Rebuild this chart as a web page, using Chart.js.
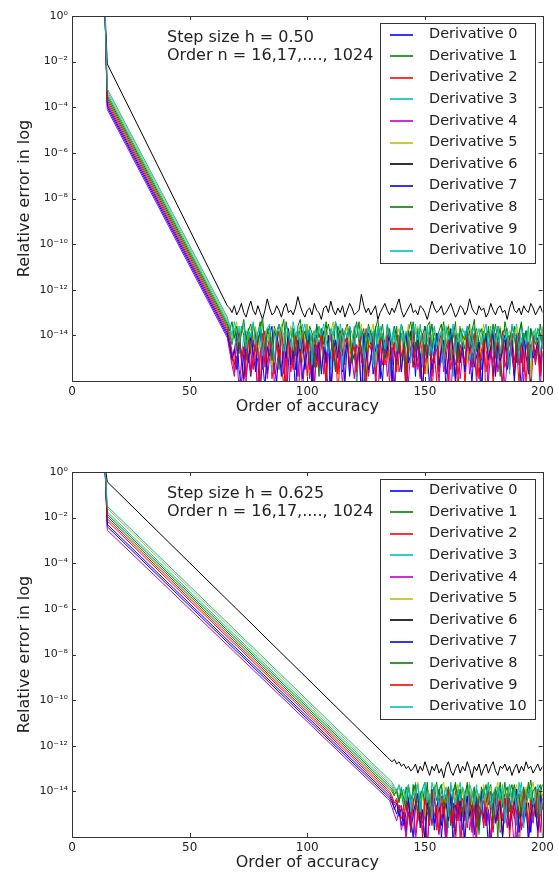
<!DOCTYPE html>
<html><head><meta charset="utf-8">
<script src="https://cdn.jsdelivr.net/npm/chart.js@4.4.0/dist/chart.umd.min.js"></script>
<style>
html,body{margin:0;padding:0;background:#fff;}
.box{position:absolute;left:0;width:558px;height:437px;}
</style></head><body>
<div style="position:relative;width:558px;height:874px;">
<div class="box" style="top:0"><canvas id="c1" width="558" height="437"></canvas></div>
<div class="box" style="top:437px"><canvas id="c2" width="558" height="437"></canvas></div>
</div>
<script>
// ---------- data ----------
const seriesNames = ['Derivative 0','Derivative 1','Derivative 2','Derivative 3','Derivative 4','Derivative 5','Derivative 6','Derivative 7','Derivative 8','Derivative 9','Derivative 10'];
const xTicks = [0, 50, 100, 150, 200];
const yTickExps = [0, -2, -4, -6, -8, -10, -12, -14, -16];
const annotationA = ['Step size h = 0.50', 'Order n = 16,17,...., 1024'];
const annotationB = ['Step size h = 0.625', 'Order n = 16,17,...., 1024'];

// first order (curve enters from above the plot) and its log10 error
const firstOrder = 14;
const firstExp = 0.3;
// second order and log10 error of each derivative there
const secondOrder = 15;
const startA = [-4.0, -3.6, -3.8, -3.4, -4.1, -3.3, -2.1, -3.9, -3.5, -3.7, -3.2];
const startB = [-2.4, -1.95, -2.15, -1.75, -2.55, -1.6, -0.43, -2.3, -1.85, -2.05, -1.5];
// end of the straight (convergent) part
const kneeOrderA = 66;
const kneeA = [-14.0, -13.6, -13.8, -13.4, -14.1, -13.3, -12.7, -13.9, -13.5, -13.7, -13.2];
const kneeOrderB = 134;
const kneeB = [-14.2, -13.8, -14.0, -13.6, -14.3, -13.5, -12.5, -14.1, -13.7, -13.9, -13.4];

// round-off plateau: -log10(error) in tenths, one value per order from knee+1 on
const noiseA0 = [145,151,147,139,155,162,148,141,150,158,143,137,152,165,149,144,157,140,136,153,160,146,139,148,171,152,142,138,155,147,141,159,150,137,145,163,149,140,154,144,138,151,168,147,142,156,139,150,145,161,143,136,152,148,158,141,146,166,150,139,144,157,149,137,153,160,142,147,139,155,162,145,140,151,143,169,148,138,154,146,141,158,150,136,147,163,144,152,139,156,148,142,165,150,137,145,159,141,149,143,155,138,147,161,144,140,153,167,146,139,151,145,158,142,136,149,162,147,140,154,143,157,139,148,164,145,138,152,160,144,149,141,156,137,146,163,150,142,155,147];
const noiseA1 = [139,144,137,142,148,136,140,151,138,135,143,147,139,134,145,152,137,141,149,136,140,155,138,133,146,142,137,150,139,144,136,148,141,135,153,140,138,145,158,137,142,134,147,139,143,156,136,140,149,138,135,145,151,137,141,134,148,139,160,143,138,144,136,150,140,135,146,142,137,153,141,136,148,139,145,157,138,134,143,147,137,152,140,136,149,142,135,146,139,155,140,134,145,138,151,137,143,148,136,141,146,139,135,154,140,137,149,142,138,145,136,150,141,135,144,158,139,137,147,140,143,136,152,139,134,146,141,148,137,144,139,147,135,142,150,138,136,145,141,153];
const noiseA2 = [142,149,156,144,138,152,161,145,140,157,150,143,167,148,139,154,146,141,159,151,144,138,153,162,147,140,156,149,143,170,152,141,146,158,139,150,164,145,142,155,147,160,143,138,151,145,166,149,141,153,139,157,148,144,162,140,152,146,137,158,150,143,155,168,145,139,153,147,161,142,148,138,156,151,143,163,146,140,154,149,144,159,141,152,147,138,165,150,143,156,141,153,146,160,139,149,144,157,151,140,162,145,138,154,148,143,159,147,141,169,152,146,140,157,144,150,163,142,148,155,139,151,146,161,143,156,140,149,166,145,153,142,158,147,141,160,149,144,155,150];
const noiseA3 = [137,143,140,146,136,149,141,138,152,139,144,137,150,141,135,147,143,139,156,138,142,148,136,140,153,139,145,137,142,158,139,135,147,144,138,151,140,136,146,142,150,138,141,155,137,143,148,135,140,152,143,139,146,136,160,141,138,149,144,137,141,153,139,145,136,142,150,138,157,140,136,146,142,139,151,144,137,148,141,135,145,140,154,138,143,136,149,141,147,139,152,137,142,146,139,158,140,144,136,149,138,143,151,140,136,147,142,155,139,145,141,136,148,143,150,138,146,140,137,153,144,139,135,152,141,147,138,143,159,140,137,149,142,136,145,140,151,139,144,148];
const noiseA4 = [147,153,158,149,163,152,145,160,148,156,142,151,166,147,155,144,159,150,141,162,153,146,140,157,149,171,145,152,143,158,148,164,150,142,155,147,161,144,153,140,157,149,145,168,151,143,156,148,162,146,141,154,150,159,144,147,165,152,139,157,150,143,161,148,155,146,142,158,151,145,167,149,144,156,141,153,160,147,150,143,155,148,163,145,152,140,158,149,146,161,144,156,150,142,169,147,153,145,159,148,151,141,157,149,146,162,143,155,150,144,160,147,152,139,156,148,145,164,151,143,149,158,144,153,147,161,142,150,157,146,152,145,163,148,143,156,150,159,144,154];
const noiseA5 = [135,141,138,134,144,139,136,147,140,137,142,136,150,138,134,145,141,139,153,137,140,146,135,143,138,149,136,141,145,139,137,152,140,135,147,142,138,144,136,156,141,137,145,139,134,150,143,138,146,140,136,148,142,137,155,139,135,144,141,147,139,135,151,143,138,141,146,136,149,142,145,140,137,153,139,144,135,148,142,138,136,146,141,138,157,140,143,137,145,150,142,138,147,135,141,149,139,144,136,143,139,152,140,137,146,138,154,141,135,147,143,137,145,150,139,136,148,142,140,138,147,141,136,144,151,139,143,137,158,140,138,145,142,136,149,140,146,139,144,137];
const noiseA6 = [128,130,127,131,129,126,130,132,128,125,129,131,127,130,133,129,124,128,131,130,127,129,132,128,126,130,129,131,128,123,127,130,132,129,128,131,126,129,130,133,128,127,130,125,129,131,128,130,127,132,129,126,128,131,130,129,122,127,130,128,131,129,127,133,130,128,126,129,131,128,130,127,124,129,132,130,128,126,130,129,131,127,128,130,133,129,125,128,130,129,127,131,130,128,126,129,132,130,127,128,131,129,124,128,130,131,127,129,128,132,130,126,129,131,128,127,130,129,133,128,125,129,130,128,131,127,129,130,126,128,131,129,127,130,128,124,129,131,127,130];
const noiseA7 = [144,150,146,155,141,148,159,143,152,140,147,156,142,138,151,163,145,149,141,154,139,146,158,144,150,137,153,147,165,142,148,141,155,146,139,160,144,151,143,157,145,152,140,164,147,142,150,138,156,149,143,158,146,141,153,145,168,140,148,155,151,139,147,144,159,142,150,146,138,162,147,153,141,156,145,139,152,148,143,158,140,149,166,144,150,141,155,147,139,153,146,142,157,150,138,148,161,143,152,145,156,141,147,139,154,149,143,163,146,140,150,145,138,158,143,151,147,140,155,148,142,160,146,141,152,139,149,157,144,150,147,143,154,140,159,145,151,142,148,156];
const noiseA8 = [138,134,141,136,145,139,133,142,137,148,135,140,144,137,132,146,139,136,151,138,141,135,139,147,134,140,143,137,149,136,133,142,138,145,136,139,154,135,141,137,144,139,135,141,148,134,138,146,137,143,140,136,152,138,134,143,141,137,147,135,139,145,137,133,142,140,150,136,139,144,136,141,147,135,139,156,138,142,134,146,143,137,140,149,136,134,145,139,141,138,135,148,139,136,143,141,134,152,137,140,142,136,145,138,133,147,140,137,144,139,138,143,135,150,141,137,146,134,139,142,136,140,148,139,135,142,138,155,137,141,144,137,139,146,134,140,143,136,149,138];
const noiseA9 = [141,147,153,143,139,150,145,158,142,148,155,140,146,161,144,138,152,147,141,157,143,150,139,146,164,142,148,155,140,145,152,138,147,143,159,149,141,154,146,139,148,162,144,140,151,146,157,138,149,143,140,153,147,141,156,145,139,150,166,144,146,139,158,148,142,153,145,140,151,147,143,156,140,149,145,163,142,147,138,154,150,144,139,157,146,141,152,148,160,143,139,151,145,142,155,147,140,165,144,149,153,141,148,144,139,158,146,151,142,156,145,140,162,147,143,150,138,154,149,141,148,155,142,139,152,146,161,143,147,140,151,144,157,141,148,142,153,146,139,159];
const noiseA10 = [136,140,134,139,143,137,135,146,138,141,134,144,139,136,149,140,137,135,143,152,138,135,142,147,136,139,145,134,140,137,146,139,135,141,137,153,138,143,136,140,135,142,148,137,140,134,144,139,155,138,141,136,139,145,135,142,137,150,140,136,143,138,154,136,141,139,146,135,140,144,137,147,140,135,143,138,141,152,136,139,142,135,144,139,137,149,140,136,145,141,138,153,136,142,140,135,147,139,143,137,140,136,145,138,151,141,137,144,139,135,146,139,137,143,136,148,140,142,138,157,135,141,139,146,137,140,144,136,150,138,142,137,148,140,135,143,139,145,136,141];

const noiseB0 = [143,145,147,150,146,155,149,158,144,152,160,147,141,154,149,163,145,151,142,157,148,139,155,146,166,143,150,145,159,141,153,147,162,144,140,156,149,143,158,146,141,155,148,165,145,139,152,147,160,143,150,157,142,148,163,146,140,154,149,145,158,143,151,146,139,161,147,153,144,150];
const noiseB1 = [139,140,142,139,144,141,147,138,143,150,137,145,141,152,139,136,148,142,155,140,136,146,140,143,158,138,144,141,137,151,143,139,147,136,150,142,138,156,141,145,138,153,140,137,146,143,160,139,144,136,149,141,137,145,139,152,143,138,147,141,135,144,150,140,137,148,142,157,139,145];
const noiseB2 = [141,143,146,144,149,152,147,156,145,151,143,159,148,141,154,147,165,144,150,140,157,146,152,142,161,149,144,155,140,153,147,167,143,150,145,158,141,152,148,144,156,142,149,163,146,140,153,147,159,143,148,155,141,150,145,168,144,151,139,157,146,152,143,160,148,141,155,147,150,162];
const noiseB3 = [137,138,140,139,143,138,146,141,137,149,142,136,145,140,153,138,143,147,136,141,150,139,137,144,141,156,138,142,146,140,136,148,143,138,152,140,145,137,159,142,139,144,136,150,141,138,147,143,140,154,145,137,142,139,155,141,136,148,143,138,141,152,138,145,140,137,149,142,146,139];
const noiseB4 = [144,147,150,153,148,157,152,161,149,155,146,162,151,145,158,149,167,147,154,143,152,159,145,150,164,148,142,156,151,146,160,147,153,143,157,150,169,145,152,148,144,155,149,162,146,153,141,158,150,147,156,143,151,165,148,144,157,152,146,160,149,154,145,158,151,143,163,147,155,150];
const noiseB5 = [136,137,139,141,138,143,140,145,137,142,148,139,136,144,140,151,138,142,146,137,140,145,138,136,149,141,155,139,143,137,142,138,147,140,136,152,139,144,141,148,137,150,141,138,145,140,136,157,142,139,143,138,146,141,137,149,140,144,138,153,140,136,143,148,139,142,151,137,145,141];
const noiseB6 = [126,127,126,128,127,129,128,130,129,131,130,128,132,129,131,127,130,133,129,131,128,132,130,134,129,127,131,133,130,128,132,129,131,127,130,134,129,131,128,133,130,128,132,129,127,131,133,129,130,128,131,129,133,130,128,132,129,131,127,130,129,132,130,128,131,129,130,132,128,131];
const noiseB7 = [142,144,148,145,151,147,155,149,143,158,150,145,141,156,148,162,144,152,139,154,147,143,160,149,145,153,141,164,146,150,144,157,148,142,151,146,159,143,155,140,152,147,165,145,141,154,149,144,160,148,143,156,150,146,139,158,147,153,145,162,151,144,149,157,142,148,155,146,161,145];
const noiseB8 = [138,139,141,140,145,139,143,148,138,144,140,137,150,142,139,146,136,153,141,138,144,140,137,147,142,138,155,140,136,145,139,151,141,137,144,148,139,143,157,138,142,137,146,140,154,139,143,136,147,141,138,149,142,137,145,141,151,139,144,136,146,140,138,152,141,137,147,143,139,150];
const noiseB9 = [140,142,145,143,148,146,152,144,150,157,145,141,153,147,160,143,149,155,140,151,146,158,142,150,145,139,154,148,163,144,151,143,147,156,141,152,146,161,142,149,155,145,140,150,158,144,147,142,153,148,141,160,146,152,143,149,156,140,147,154,144,151,147,139,158,145,150,143,157,148];
const noiseB10 = [135,136,138,140,137,141,139,144,137,146,140,143,137,149,139,136,145,141,152,138,137,147,140,143,138,151,136,142,145,139,144,138,141,154,137,140,146,139,143,148,139,142,136,147,141,150,138,144,137,153,141,137,145,139,148,136,142,156,140,143,138,146,141,137,150,143,139,145,142,140];

const noiseA = [noiseA0,noiseA1,noiseA2,noiseA3,noiseA4,noiseA5,noiseA6,noiseA7,noiseA8,noiseA9,noiseA10];
const noiseB = [noiseB0,noiseB1,noiseB2,noiseB3,noiseB4,noiseB5,noiseB6,noiseB7,noiseB8,noiseB9,noiseB10];

// ---------- style ----------
const colors = ['#0000ff','#008000','#ff0000','#00bfbf','#bf00bf','#bfbf00','#000000','#0000ff','#008000','#ff0000','#00bfbf'];
const FONT = 'DejaVu Sans';
const SUP = {'-':'\u207B','0':'\u2070','1':'\u00B9','2':'\u00B2','3':'\u00B3','4':'\u2074','5':'\u2075','6':'\u2076','7':'\u2077','8':'\u2078','9':'\u2079'};
function supLabel(e){ return '10' + String(e).split('').map(c => SUP[c]).join(''); }

function series(i, start, kneeOrder, knee, noise) {
  const pts = [
    {x: firstOrder, y: Math.pow(10, firstExp)},
    {x: secondOrder, y: Math.pow(10, start[i])},
    {x: kneeOrder, y: Math.pow(10, knee[i])}
  ];
  noise[i].forEach((v, k) => pts.push({x: kneeOrder + 1 + k, y: Math.pow(10, -v / 10)}));
  return pts;
}

const deco = {
  id: 'deco',
  afterDraw(chart) {
    const o = chart.options.plugins.deco;
    const {ctx, chartArea: a, scales} = chart;
    ctx.save();
    ctx.strokeStyle = '#333';
    ctx.lineWidth = 1;
    ctx.beginPath();
    xTicks.forEach(v => {
      const px = Math.round(scales.x.getPixelForValue(v)) + 0.5;
      ctx.moveTo(px, a.bottom); ctx.lineTo(px, a.bottom - 4);
      ctx.moveTo(px, a.top); ctx.lineTo(px, a.top + 4);
    });
    yTickExps.forEach(e => {
      const py = Math.round(scales.y.getPixelForValue(Math.pow(10, e))) + 0.5;
      ctx.moveTo(a.left, py); ctx.lineTo(a.left + 4, py);
      ctx.moveTo(a.right, py); ctx.lineTo(a.right - 4, py);
    });
    ctx.stroke();
    ctx.strokeRect(Math.round(a.left) + 0.5, Math.round(a.top) + 0.5, Math.round(a.right - a.left), Math.round(a.bottom - a.top));

    ctx.fillStyle = '#222';
    // axis titles
    ctx.font = '16px "' + FONT + '"';
    ctx.textAlign = 'center'; ctx.textBaseline = 'middle';
    ctx.fillText('Order of accuracy', (a.left + a.right) / 2, a.bottom + 26);
    ctx.save();
    ctx.translate(25, (a.top + a.bottom) / 2);
    ctx.rotate(-Math.PI / 2);
    ctx.fillText('Relative error in log', 0, 0);
    ctx.restore();
    // annotation
    ctx.textAlign = 'left';
    ctx.fillText(o.text[0], 167, a.top + 22);
    ctx.fillText(o.text[1], 167, a.top + 40);
    // legend
    const lx = 380, lw = 155, ly = a.top + 7, lh = 240;
    ctx.fillStyle = '#fff';
    ctx.fillRect(lx, ly, lw, lh);
    ctx.strokeStyle = '#333';
    ctx.strokeRect(lx + 0.5, ly + 0.5, lw, lh);
    ctx.font = '14.5px "' + FONT + '"';
    seriesNames.forEach((n, i) => {
      const cy = ly + 11.5 + i * 21.6;
      ctx.save();
      ctx.strokeStyle = colors[i];
      ctx.lineWidth = 1.6;
      ctx.beginPath(); ctx.moveTo(390, Math.round(cy)); ctx.lineTo(413, Math.round(cy)); ctx.stroke();
      ctx.restore();
      ctx.fillStyle = '#222';
      ctx.fillText(n, 429, cy);
    });
    ctx.restore();
  }
};

function makeChart(id, start, kneeOrder, knee, noise, text, plotTop, plotBottom) {
  const datasets = seriesNames.map((n, i) => ({
    label: n,
    data: series(i, start, kneeOrder, knee, noise),
    borderColor: colors[i],
    borderWidth: 1,
    pointRadius: 0,
    fill: false,
    tension: 0,
    order: 10 - i
  }));
  return new Chart(document.getElementById(id), {
    type: 'line',
    data: {datasets},
    plugins: [deco],
    options: {
      responsive: false, animation: false, devicePixelRatio: 1,
      layout: {padding: {top: plotTop, right: 15, bottom: 0, left: 0}},
      plugins: {legend: {display: false}, tooltip: {enabled: false}, deco: {text}},
      scales: {
        x: {
          type: 'linear', min: 0, max: 200,
          afterFit(s) { s.height = 437 - plotBottom; },
          afterBuildTicks(s) { s.ticks = xTicks.map(v => ({value: v})); },
          ticks: {font: {family: FONT, size: 12}, color: '#222', padding: 4, maxRotation: 0, autoSkip: false},
          grid: {display: false, drawTicks: false},
          border: {display: false}
        },
        y: {
          type: 'logarithmic', min: 1e-16, max: 1,
          afterFit(s) { s.width = 72; },
          afterBuildTicks(s) { s.ticks = yTickExps.map(e => ({value: Math.pow(10, e)})); },
          ticks: {
            font: {family: FONT, size: 11}, color: '#222', padding: 4, autoSkip: false,
            callback(v) { const e = Math.round(Math.log10(v)); return e === -16 ? '' : supLabel(e); }
          },
          grid: {display: false, drawTicks: false},
          border: {display: false}
        }
      }
    }
  });
}

makeChart('c1', startA, kneeOrderA, kneeA, noiseA, annotationA, 16, 381);
makeChart('c2', startB, kneeOrderB, kneeB, noiseB, annotationB, 35, 400);
</script>
</body></html>
